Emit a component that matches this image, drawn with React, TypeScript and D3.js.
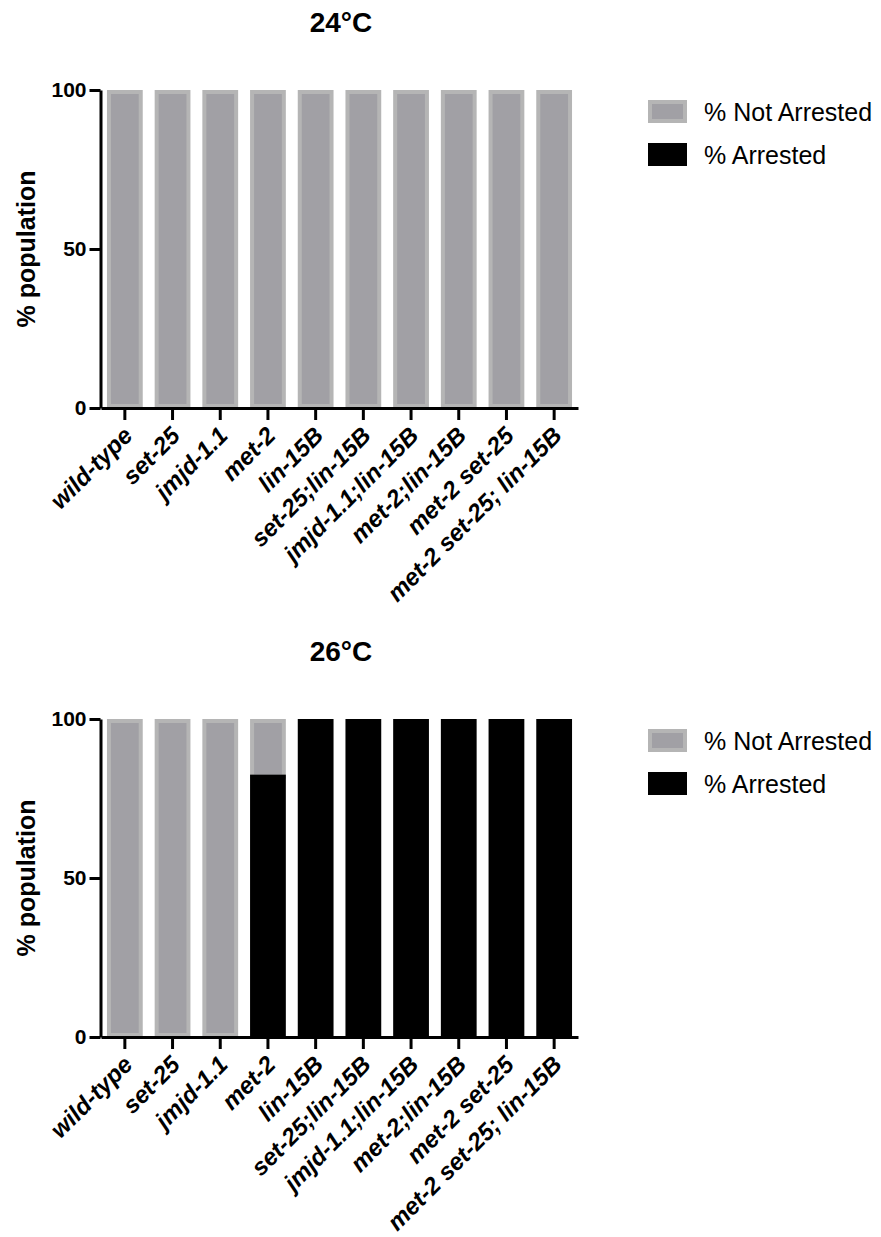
import React, { useEffect, useRef } from 'react'
import * as d3 from 'd3'

// genotypes on the x axis
const categories = [
  'wild-type', 'set-25', 'jmjd-1.1', 'met-2', 'lin-15B',
  'set-25;lin-15B', 'jmjd-1.1;lin-15B', 'met-2;lin-15B', 'met-2 set-25', 'met-2 set-25; lin-15B',
]
const titles = ['24°C', '26°C']
const seriesNames = ['% Not Arrested', '% Arrested']
const yTicks = [0, 50, 100]

// % of population per genotype
const arrested24 = [0, 0, 0, 0, 0, 0, 0, 0, 0, 0]
const notArrested24 = [100, 100, 100, 100, 100, 100, 100, 100, 100, 100]
const arrested26 = [0, 0, 0, 82.5, 100, 100, 100, 100, 100, 100]
const notArrested26 = [100, 100, 100, 17.5, 0, 0, 0, 0, 0, 0]

const panels = [
  { title: titles[0], arrested: arrested24, notArrested: notArrested24 },
  { title: titles[1], arrested: arrested26, notArrested: notArrested26 },
]

const FONT = '"Liberation Sans", Arial, Helvetica, sans-serif'
const GREY = '#a1a0a5'
const GREY_EDGE = '#b5b5b5'

export default function App() {
  const svgRef = useRef<SVGSVGElement>(null)

  useEffect(() => {
    const svg = d3.select(svgRef.current)
    svg.selectAll('*').remove()

    const x = d3.scaleBand<string>()
      .domain(categories)
      .range([101, 578])
      .paddingInner(0.25)
      .paddingOuter(0.125)
    const y = d3.scaleLinear().domain([0, 100]).range([408, 90])

    panels.forEach((p, pi) => {
      const g = svg.append('g')
        .attr('transform', `translate(0,${pi * 629})`)
        .style('font-family', FONT)

      g.append('text')
        .attr('x', 341)
        .attr('y', 32)
        .attr('text-anchor', 'middle')
        .style('font-size', '28px')
        .style('font-weight', 'bold')
        .text(p.title)

      g.append('text')
        .attr('transform', `translate(35,${(y(0) + y(100)) / 2}) rotate(-90)`)
        .attr('text-anchor', 'middle')
        .style('font-size', '25px')
        .style('font-weight', 'bold')
        .text('% population')

      const rows = categories.map((c, i) => ({ c, arrested: p.arrested[i], notArrested: p.notArrested[i] }))
      const stacked = d3.stack<any>().keys(['arrested', 'notArrested'])(rows)

      // grey (not arrested) segments; bottom edge hides under black when stacked
      g.append('g').selectAll('rect')
        .data(stacked[1].filter(d => d[1] - d[0] > 0))
        .join('rect')
        .attr('x', d => x(d.data.c)! + 2)
        .attr('width', x.bandwidth() - 4)
        .attr('y', d => y(d[1]) + 2)
        .attr('height', d => y(d[0]) - y(d[1]) - (d[0] > 0 ? 0 : 4))
        .attr('fill', GREY)
        .attr('stroke', GREY_EDGE)
        .attr('stroke-width', 4)

      // black (arrested) segments
      g.append('g').selectAll('rect')
        .data(stacked[0].filter(d => d[1] - d[0] > 0))
        .join('rect')
        .attr('x', d => x(d.data.c)!)
        .attr('width', x.bandwidth())
        .attr('y', d => y(d[1]))
        .attr('height', d => y(d[0]) - y(d[1]))
        .attr('fill', '#000')

      const yAxis = g.append('g')
        .attr('transform', 'translate(100.5,0)')
        .call(d3.axisLeft(y).tickValues(yTicks).tickSize(11).tickSizeOuter(0).tickPadding(3))
      yAxis.select('.domain').attr('stroke-width', 3)
      yAxis.selectAll('.tick line').attr('stroke-width', 3)
      yAxis.selectAll('.tick text')
        .style('font-size', '21px')
        .style('font-weight', 'bold')
        .style('font-family', FONT)

      const xAxis = g.append('g')
        .attr('transform', `translate(0,${y(0)})`)
        .call(d3.axisBottom(x).tickSize(12).tickSizeOuter(0))
      xAxis.select('.domain').attr('stroke-width', 3)
      xAxis.selectAll('.tick line').attr('stroke-width', 3)
      xAxis.selectAll('.tick text')
        .attr('x', 9)
        .attr('y', 29)
        .attr('dy', 0)
        .attr('transform', 'rotate(-45 9 29)')
        .attr('text-anchor', 'end')
        .style('font-size', '24px')
        .style('font-weight', 'bold')
        .style('font-style', 'italic')
        .style('font-family', FONT)

      // legend
      const lg = g.append('g')
      seriesNames.forEach((name, i) => {
        const ly = 100 + i * 43
        if (i === 0) {
          lg.append('rect')
            .attr('x', 650).attr('y', ly + 2).attr('width', 35).attr('height', 19)
            .attr('fill', GREY).attr('stroke', GREY_EDGE).attr('stroke-width', 4)
        } else {
          lg.append('rect')
            .attr('x', 648).attr('y', ly).attr('width', 39).attr('height', 23)
            .attr('fill', '#000')
        }
        lg.append('text')
          .attr('x', 704)
          .attr('y', ly + 21)
          .style('font-size', '25px')
          .text(name)
      })
    })
  }, [])

  return (
    <svg
      ref={svgRef}
      width={881}
      height={1237}
      style={{ position: 'absolute', left: 0, top: 0, background: '#fff' }}
    />
  )
}
